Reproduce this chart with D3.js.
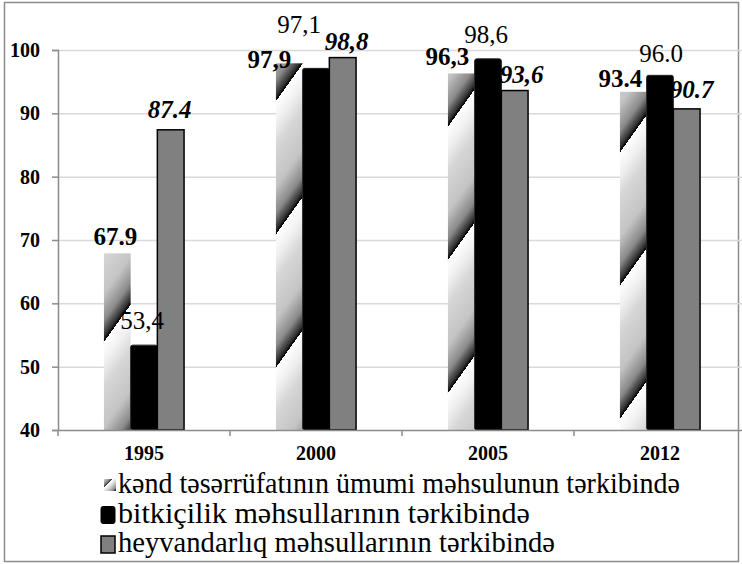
<!DOCTYPE html>
<html>
<head>
<meta charset="utf-8">
<script src="https://cdn.jsdelivr.net/npm/d3@7"></script>
<style>
  body { margin: 0; background: #fff; }
  svg text { font-family: "Liberation Serif", "Times New Roman", serif; }
</style>
</head>
<body>
<script>
var width = 742,
    height = 564;

// data
var years = ["1995", "2000", "2005", "2012"];
var series = ["kənd təsərrüfatının ümumi məhsulunun tərkibində",
              "bitkiçilik məhsullarının tərkibində",
              "heyvandarlıq məhsullarının tərkibində"];
var totalValues = [67.9, 97.9, 96.3, 93.4];
var cropValues = [53.4, 97.1, 98.6, 96.0];
var animalValues = [87.4, 98.8, 93.6, 90.7];
var totalLabels = ["67.9", "97,9", "96,3", "93.4"];
var cropLabels = ["53,4", "97,1", "98,6", "96.0"];
var animalLabels = ["87.4", "98,8", "93,6", "90.7"];
var yTicks = [40, 50, 60, 70, 80, 90, 100];

// hand-placed label nudges (dx, dy from bar top centre), as in the original
var labelShift = [
    [[-2, -8], [-20, 5], [-14, -8], [-13, -5]],
    [[-2, -16], [-17, -35], [-2, -16], [1, -13]],
    [[-1, -12], [4, -8], [7, -8], [5, -11]]
];
// legend text widths (the ə glyph falls back to a wider font otherwise)
var legendWidths = [562, 412, 437];

var values = [totalValues, cropValues, animalValues],
    labels = [totalLabels, cropLabels, animalLabels];

var svg = d3.select("body").append("svg")
    .attr("width", width)
    .attr("height", height);

var defs = svg.append("defs");

// diagonal metallic stripe fill for first series
var grad = defs.append("linearGradient")
    .attr("id", "stripe")
    .attr("gradientUnits", "userSpaceOnUse")
    .attr("spreadMethod", "repeat")
    .attr("x1", 0).attr("y1", 0)
    .attr("x2", 63).attr("y2", 45);
[[0, "#d6d6d6"], [0.3, "#c4c4c4"], [0.5, "#8a8a8a"], [0.62, "#303030"], [0.66, "#000"],
 [0.66, "#ffffff"], [0.82, "#f0f0f0"], [1, "#d6d6d6"]].forEach(function(s){
    grad.append("stop").attr("offset", s[0]).attr("stop-color", s[1]);
});

var grad2 = defs.append("linearGradient")
    .attr("id", "stripeSmall")
    .attr("spreadMethod", "repeat")
    .attr("x1", 0).attr("y1", 0)
    .attr("x2", 0.6).attr("y2", 0.6);
[[0, "#d4d4d4"], [0.4, "#8a8a8a"], [0.6, "#202020"], [0.62, "#fff"], [1, "#d4d4d4"]].forEach(function(s){
    grad2.append("stop").attr("offset", s[0]).attr("stop-color", s[1]);
});

var fills = ["url(#stripe)", "#000", "#808080"];

var margin = {left: 58, top: 50, bottom: 430, right: 746};

var x = d3.scaleBand()
    .domain(years)
    .range([margin.left, margin.right]);

var xSub = d3.scaleBand()
    .domain(d3.range(series.length))
    .range([0, x.bandwidth()])
    .paddingOuter(1.72);

var y = d3.scaleLinear()
    .domain([40, 100])
    .range([margin.bottom, margin.top]);

// outer frame
svg.append("rect")
    .attr("x", 4.5).attr("y", 2.5)
    .attr("width", 734).attr("height", 559)
    .attr("fill", "none")
    .attr("stroke", "#8c8c8c")
    .attr("stroke-width", 1.5);

// gridlines
svg.append("g").selectAll("line")
    .data(yTicks.slice(1))
    .enter().append("line")
    .attr("x1", margin.left).attr("x2", margin.right)
    .attr("y1", function(d){ return y(d) + 0.5; })
    .attr("y2", function(d){ return y(d) + 0.5; })
    .attr("stroke", "#d9d9d9")
    .attr("stroke-width", 1.5);

// y axis
var yAxis = svg.append("g")
    .attr("transform", "translate(" + margin.left + ",0)")
    .call(d3.axisLeft(y).tickValues(yTicks).tickSize(6).tickPadding(12));
yAxis.attr("font-family", null);
yAxis.select(".domain").attr("stroke", "#8c8c8c").attr("stroke-width", 1.5);
yAxis.selectAll(".tick line").attr("stroke", "#8c8c8c").attr("stroke-width", 1.5);
yAxis.selectAll(".tick text")
    .attr("font-size", 20)
    .attr("font-weight", "bold")
    .attr("fill", "#000");

// bars
var groups = svg.append("g").selectAll("g")
    .data(series)
    .enter().append("g");

groups.each(function(s, si){
    var g = d3.select(this);
    g.selectAll("rect")
        .data(values[si])
        .enter().append("rect")
        .attr("x", function(d, i){ return x(years[i]) + xSub(si); })
        .attr("width", xSub.bandwidth())
        .attr("y", function(d){ return y(d); })
        .attr("height", function(d){ return y(40) - y(d); })
        .attr("fill", fills[si])
        .attr("rx", si == 1 ? 2 : 0)
        .attr("stroke", si == 2 ? "#000" : (si == 1 ? "#222" : "none"))
        .attr("stroke-width", si == 2 ? 1.5 : 1);
});

// x axis
svg.append("line")
    .attr("x1", margin.left).attr("x2", margin.right)
    .attr("y1", margin.bottom + 0.5).attr("y2", margin.bottom + 0.5)
    .attr("stroke", "#8c8c8c").attr("stroke-width", 1.5);

svg.append("g").selectAll("line")
    .data(years.concat(["end"]))
    .enter().append("line")
    .attr("x1", function(d, i){ return margin.left + i * x.step(); })
    .attr("x2", function(d, i){ return margin.left + i * x.step(); })
    .attr("y1", margin.bottom).attr("y2", margin.bottom + 6)
    .attr("stroke", "#8c8c8c").attr("stroke-width", 1.5);

svg.append("g").selectAll("text")
    .data(years)
    .enter().append("text")
    .attr("x", function(d){ return x(d) + x.bandwidth() / 2; })
    .attr("y", 460)
    .attr("text-anchor", "middle")
    .attr("font-size", 20)
    .attr("font-weight", "bold")
    .text(function(d){ return d; });

// value labels
var labelStyle = [
    {weight: "bold", style: "normal"},
    {weight: "normal", style: "normal"},
    {weight: "bold", style: "italic"}
];
series.forEach(function(s, si){
    svg.append("g").selectAll("text")
        .data(values[si])
        .enter().append("text")
        .attr("x", function(d, i){ return x(years[i]) + xSub(si) + xSub.bandwidth() / 2 + labelShift[si][i][0]; })
        .attr("y", function(d, i){ return y(d) + labelShift[si][i][1]; })
        .attr("text-anchor", "middle")
        .attr("font-size", 25)
        .attr("font-weight", labelStyle[si].weight)
        .attr("font-style", labelStyle[si].style)
        .text(function(d, i){ return labels[si][i]; });
});

// legend
var legend = svg.append("g").attr("transform", "translate(100,485)");
var item = legend.selectAll("g")
    .data(series)
    .enter().append("g")
    .attr("transform", function(d, i){ return "translate(0," + (i * 29.5) + ")"; });

item.each(function(d, i){
    var g = d3.select(this);
    if(i == 0){
        g.append("rect").attr("x", 4).attr("y", -6).attr("width", 12).attr("height", 12)
            .attr("fill", "url(#stripeSmall)");
    } else {
        g.append("rect").attr("x", 1).attr("y", -8).attr("width", 14).attr("height", 17)
            .attr("rx", i == 1 ? 2 : 0)
            .attr("fill", fills[i])
            .attr("stroke", "#000").attr("stroke-width", i == 2 ? 1.5 : 1);
    }
    g.append("text")
        .attr("x", 18)
        .attr("y", 8)
        .attr("font-size", 29)
        .attr("textLength", legendWidths[i])
        .attr("lengthAdjust", "spacingAndGlyphs")
        .text(d);
});
</script>
</body>
</html>
